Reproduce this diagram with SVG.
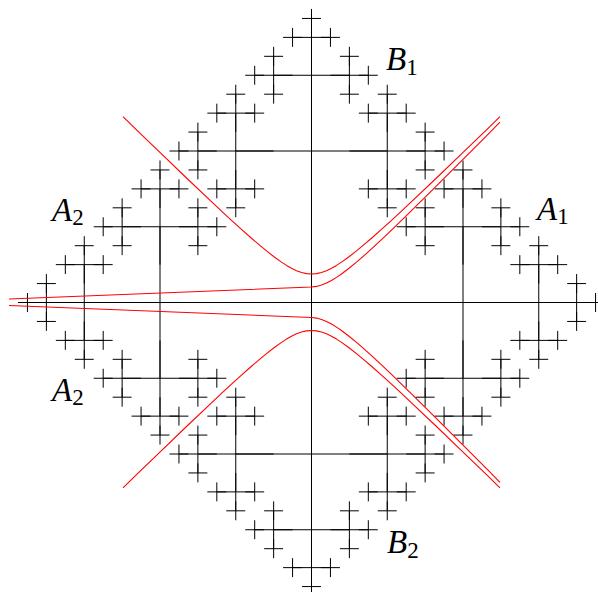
<svg xmlns="http://www.w3.org/2000/svg" xmlns:xlink="http://www.w3.org/1999/xlink" width="598" height="592" viewBox="0 0 598 592">
<style>
.frac{stroke:#000;stroke-width:1;fill:none}
.curve{stroke:#ff0000;stroke-width:1.1;fill:none;stroke-linejoin:round}
.lbl{font-family:"Liberation Serif","DejaVu Serif",serif;font-style:italic;font-size:33px;fill:#000}
.sub{font-style:normal;font-size:23px}
</style>
<defs>
<path id="c4" d="M-9.469 0H9.469M0 -9.469V9.469"/>
<g id="b3"><path d="M-18.9375 0H18.9375M0 -18.9375V18.9375"/><use href="#c4" x="18.9375"/><use href="#c4" y="-18.9375"/><use href="#c4" y="18.9375"/></g>
<g id="b2"><path d="M-37.875 0H37.875M0 -37.875V37.875"/><use href="#b3" x="37.875"/><use href="#b3" transform="translate(0,-37.875) rotate(-90)"/><use href="#b3" transform="translate(0,37.875) rotate(90)"/></g>
<g id="b1"><path d="M-75.75 0H75.75M0 -75.75V75.75"/><use href="#b2" x="75.75"/><use href="#b2" transform="translate(0,-75.75) rotate(-90)"/><use href="#b2" transform="translate(0,75.75) rotate(90)"/></g>
</defs>
<g id="fractal" class="frac">
<path d="M160 302.5H463M311.5 151V454"/>
<use href="#b1" transform="translate(463,302.5)"/>
<use href="#b1" transform="translate(160,302.5) rotate(180)"/>
<use href="#b1" transform="translate(311.5,151) rotate(-90)"/>
<use href="#b1" transform="translate(311.5,454) rotate(90)"/>
</g>
<g id="curves" class="curve">
<path d="M123 116.69 L136.5 129.79 161.5 153.97 186.5 177.98 211.5 201.7 221.5 211.05 231.5 220.29 241.5 229.38 251.5 238.24 259 244.69 266.5 250.9 274 256.77 281.5 262.16 286.5 265.4 291.5 268.27 296.5 270.66 301.5 272.47 306.5 273.61 311.5 274 316.5 273.61 321.5 272.47 326.5 270.66 331.5 268.27 336.5 265.4 341.5 262.16 349 256.77 356.5 250.9 364 244.69 371.5 238.24 381.5 229.38 391.5 220.29 401.5 211.05 411.5 201.7 436.5 177.98 461.5 153.97 486.5 129.79 500 116.69"/>
<path d="M123 487.81 L136.5 474.71 161.5 450.53 186.5 426.52 211.5 402.8 221.5 393.45 231.5 384.21 241.5 375.12 251.5 366.26 259 359.81 266.5 353.6 274 347.73 281.5 342.34 286.5 339.1 291.5 336.23 296.5 333.84 301.5 332.03 306.5 330.89 311.5 330.5 316.5 330.89 321.5 332.03 326.5 333.84 331.5 336.23 336.5 339.1 341.5 342.34 349 347.73 356.5 353.6 364 359.81 371.5 366.26 381.5 375.12 391.5 384.21 401.5 393.45 411.5 402.8 436.5 426.52 461.5 450.53 486.5 474.71 500 487.81"/>
<path d="M9 299 L311.5 287 316.5 286.41 321.5 285.07 326.5 283.06 331.5 280.47 336.5 277.4 341.5 273.96 349 268.27 356.5 262.1 364 255.59 371.5 248.84 381.5 239.58 391.5 230.09 401.5 220.45 411.5 210.7 436.5 185.98 461.5 160.97 486.5 135.79 500 122.15"/>
<path d="M9 305.5 L311.5 317.5 316.5 318.09 321.5 319.43 326.5 321.44 331.5 324.03 336.5 327.1 341.5 330.54 349 336.23 356.5 342.4 364 348.91 371.5 355.66 381.5 364.92 391.5 374.41 401.5 384.05 411.5 393.8 436.5 418.52 461.5 443.53 486.5 468.71 500 482.35"/>
</g>
<g id="labels">
<text id="B1" class="lbl" x="386" y="70">B<tspan class="sub" dy="5">1</tspan></text>
<text id="A1" class="lbl" x="537" y="220">A<tspan class="sub" dy="4">1</tspan></text>
<text id="A2top" class="lbl" x="52" y="221">A<tspan class="sub" dy="4">2</tspan></text>
<text id="A2bot" class="lbl" x="52" y="401">A<tspan class="sub" dy="4">2</tspan></text>
<text id="B2" class="lbl" x="387" y="553">B<tspan class="sub" dy="5">2</tspan></text>
</g>
</svg>
